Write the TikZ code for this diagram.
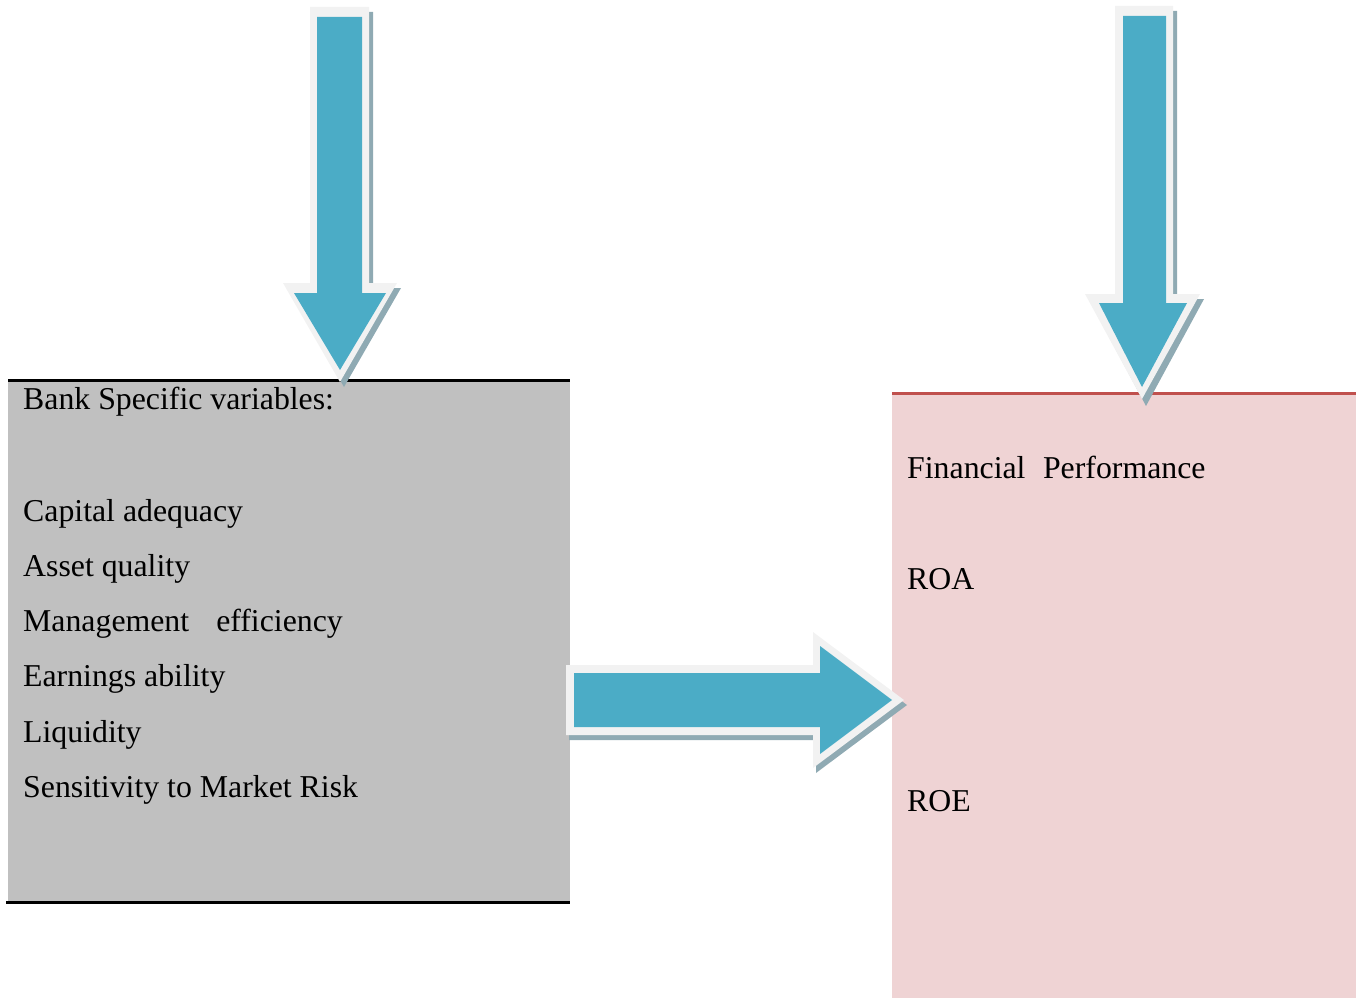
\documentclass[tikz,border=0pt]{standalone}
\usepackage{fontspec}
\setmainfont{Liberation Serif}
\definecolor{boxgray}{HTML}{C0C0C0}
\definecolor{boxpink}{HTML}{EFD3D4}
\definecolor{pinkline}{HTML}{C0504D}
\definecolor{arrblue}{HTML}{4BACC6}
\definecolor{arredge}{HTML}{F2F2F2}
\definecolor{arrshadow}{HTML}{8FAAB3}
\tikzset{
  lbl/.style={anchor=base west, inner sep=0pt, font=\fontsize{31.8}{38}\selectfont, text=black},
  shadowpart/.style={fill=arrshadow, draw=none},
  edgepart/.style={fill=arredge, draw=none},
  bluepart/.style={fill=arrblue, draw=none},
}
\begin{document}
\begin{tikzpicture}[x=1pt,y=-1pt]
\useasboundingbox (0,0) rectangle (1356,998);
% boxes
\node[fill=boxgray, draw=none, inner sep=0pt, minimum width=562pt, minimum height=522pt, anchor=north west] (leftbox) at (8,380) {};
\draw[black, line width=3pt] (leftbox.north west) -- (leftbox.north east);
\draw[black, line width=3pt] ([xshift=-2pt]leftbox.south west) -- (leftbox.south east);
\node[fill=boxpink, draw=none, inner sep=0pt, minimum width=464pt, minimum height=605pt, anchor=north west] (rightbox) at (892,393) {};
\draw[pinkline, line width=3pt] (rightbox.north west) -- (rightbox.north east);
% left texts
\node[lbl] (bsv) at (23,409) {Bank Specific variables:};
\node[lbl] (cap) at (23,521) {Capital adequacy};
\node[lbl] (asq) at (23,576) {Asset quality};
\node[lbl] (mgt) at (23,631) {Management\hspace{0.6em} efficiency};
\node[lbl] (ear) at (23,686) {Earnings ability};
\node[lbl] (liq) at (23,742) {Liquidity};
\node[lbl] (sen) at (23,797) {Sensitivity to Market Risk};
% right texts
\node[lbl] (fp) at (907,478) {Financial\hspace{0.3em} Performance};
\node[lbl] (roa) at (907,589) {ROA};
\node[lbl] (roe) at (907,811) {ROE};
% left down arrow
\fill[shadowpart] (314,12) -- (373,12) -- (373,288) -- (401,288) -- (344,387) -- (287,288) -- (314,288) -- cycle;
\fill[edgepart] (310,7) -- (369,7) -- (369,283) -- (397,283) -- (340,382) -- (283,283) -- (310,283) -- cycle;
\fill[bluepart] (317,17) -- (362,17) -- (362,293) -- (386,293) -- (340,370) -- (294,293) -- (317,293) -- cycle;
% right down arrow
\fill[shadowpart] (1119,11) -- (1177,11) -- (1177,299) -- (1204,299) -- (1146,406) -- (1089,299) -- (1119,299) -- cycle;
\fill[edgepart] (1115,6) -- (1173,6) -- (1173,294) -- (1200,294) -- (1142,399) -- (1085,294) -- (1115,294) -- cycle;
\fill[bluepart] (1123,16) -- (1166,16) -- (1166,303) -- (1187,303) -- (1142,387) -- (1099,303) -- (1123,303) -- cycle;
% horizontal arrow
\fill[shadowpart] (569,670) -- (816,670) -- (816,637) -- (907,705) -- (816,773) -- (816,740) -- (569,740) -- cycle;
\fill[edgepart] (566,665) -- (813,665) -- (813,632) -- (904,700) -- (813,768) -- (813,735) -- (566,735) -- cycle;
\fill[bluepart] (574,673) -- (820,673) -- (820,646) -- (892,700) -- (820,754) -- (820,727) -- (574,727) -- cycle;
\end{tikzpicture}
\end{document}
